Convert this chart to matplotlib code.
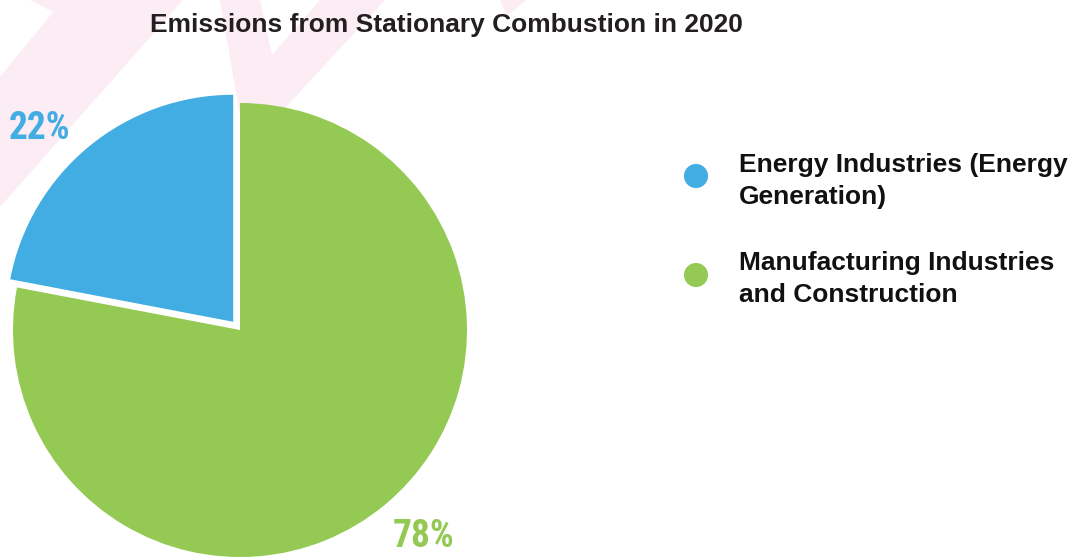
import matplotlib.pyplot as plt
from matplotlib.patches import Polygon

# emissions split, 2020
sectors = ["Energy Industries (Energy\nGeneration)", "Manufacturing Industries\nand Construction"]
shares = [22, 78]
colors = ["#42ade2", "#94c954"]
pct_labels = ["22%", "78%"]

W, H = 1075, 557
R = 227

fig = plt.figure(figsize=(W / 100, H / 100), dpi=100)
ax = fig.add_axes([0, 0, 1, 1])


def py(y):
    # top-down pixel rows -> axis y
    return H - y


# faint pink backdrop shapes
pink = "#fcecf4"
shapes = [
    [(30, 0), (183, 0), (0, 207), (0, 77), (53, 12)],
    [(220, 0), (260, 0), (272, 55), (320, 0), (385, 0), (246, 150)],
    [(500, 0), (526, 0), (507, 16)],
]
for pts in shapes:
    ax.add_patch(Polygon([(x, py(y)) for x, y in pts], closed=True,
                         facecolor=pink, edgecolor="none", zorder=0))

# explode is in data units, so scale by radius
ax.pie(shares, colors=colors, startangle=90, counterclock=True,
       explode=[0.047 * R, 0], center=(240, py(330)), radius=R,
       wedgeprops=dict(linewidth=0), frame=True)
ax.set_xlim(0, W)
ax.set_ylim(0, H)
ax.set_aspect("equal")
ax.axis("off")

pct_font = ["Roboto Condensed", "DejaVu Sans"]
ax.text(40, py(139), pct_labels[0], color=colors[0], fontsize=27, fontweight="bold",
        fontstretch="condensed", family=pct_font, ha="center", va="baseline")
ax.text(424, py(547), pct_labels[1], color=colors[1], fontsize=27, fontweight="bold",
        fontstretch="condensed", family=pct_font, ha="center", va="baseline")

ax.text(446, py(32), "Emissions from Stationary Combustion in 2020", fontsize=19,
        fontweight="bold", color="#231f20", family="Liberation Sans",
        ha="center", va="baseline")

# legend
dot_y = [176, 275]
txt_y = [181, 279]
for name, c, yd, yt in zip(sectors, colors, dot_y, txt_y):
    ax.scatter([696], [py(yd)], s=300, color=c, edgecolors="none")
    ax.text(739, py(yt), name, fontsize=19, fontweight="bold", color="#111111",
            family="Liberation Sans", ha="left", va="center", linespacing=1.38)

fig.savefig("out.png", dpi=100)
